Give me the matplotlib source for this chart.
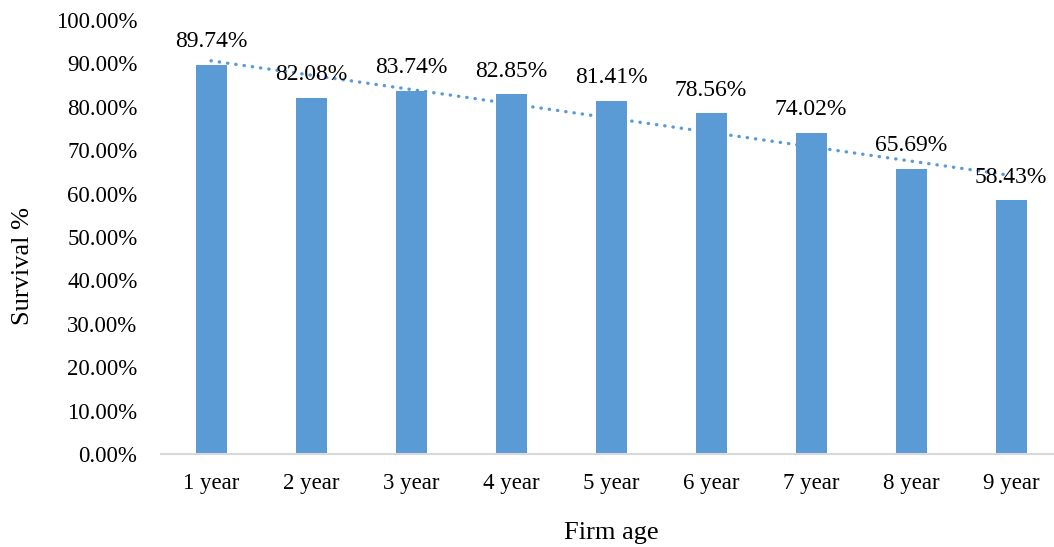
import numpy as np
import matplotlib
matplotlib.use("Agg")
import matplotlib.pyplot as plt
from matplotlib.ticker import FuncFormatter

plt.rcParams['font.family'] = ['Liberation Serif', 'DejaVu Serif']

ages = ['1 year', '2 year', '3 year', '4 year', '5 year',
        '6 year', '7 year', '8 year', '9 year']
survival = [89.74, 82.08, 83.74, 82.85, 81.41, 78.56, 74.02, 65.69, 58.43]

blue = '#5B9BD5'

fig = plt.figure(figsize=(10.54, 5.47), dpi=100)
ax = fig.add_axes([161 / 1054, 93 / 547, 900 / 1054, 434 / 547])

x = np.arange(len(ages))
ax.bar(x, survival, width=0.31, color=blue, zorder=2)

# linear trendline like excel
k, b = np.polyfit(x, survival, 1)
ax.plot(x, k * x + b, color=blue, lw=2.4, linestyle=(0, (0.1, 2.4)),
        dash_capstyle='round', zorder=3)

for xi, v in zip(x, survival):
    ax.annotate('%.2f%%' % v, (xi, v), xytext=(0, 9), textcoords='offset points',
                ha='center', va='bottom', fontsize=17, zorder=4)

ax.set_xlim(-0.5, len(ages) - 0.5)
ax.set_ylim(0, 100)
ax.set_yticks(np.arange(0, 101, 10))
ax.yaxis.set_major_formatter(FuncFormatter(lambda v, p: '%.2f%%' % v))
ax.set_xticks(x)
ax.set_xticklabels(ages)

for s in ['top', 'right', 'left']:
    ax.spines[s].set_visible(False)
ax.spines['bottom'].set_color('#D9D9D9')
ax.spines['bottom'].set_linewidth(1.5)
ax.tick_params(axis='both', length=0, labelsize=16.5)
ax.tick_params(axis='y', pad=17)
ax.tick_params(axis='x', pad=14)

ax.set_xlabel('Firm age', fontsize=19, labelpad=20)
fig.text(23 / 1054, 1 - 266 / 547, 'Survival %', rotation=90, fontsize=19,
         ha='center', va='center')

fig.savefig('out.png', dpi=100)
